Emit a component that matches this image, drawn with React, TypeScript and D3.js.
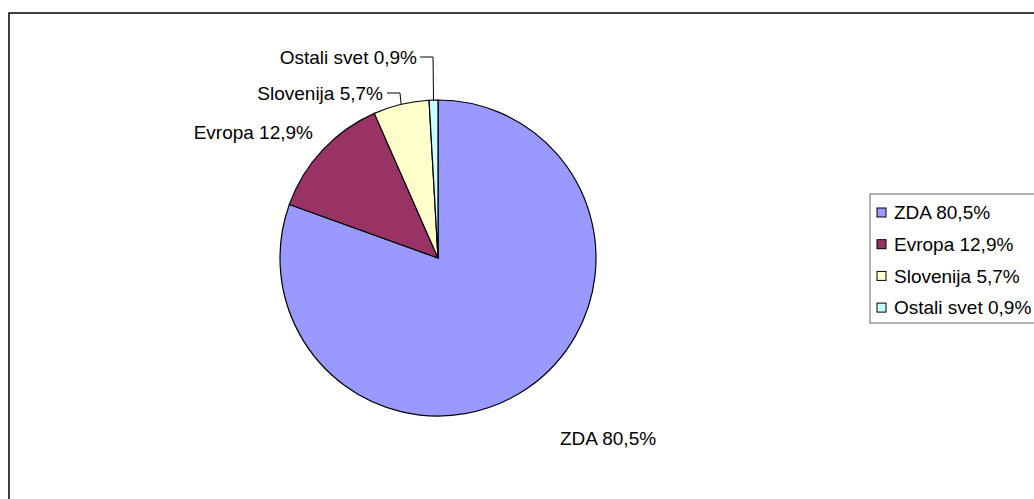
import React from "react";
import * as d3 from "d3";

const categories = ["ZDA", "Evropa", "Slovenija", "Ostali svet"];
const values = [80.5, 12.9, 5.7, 0.9];
const labels = ["ZDA 80,5%", "Evropa 12,9%", "Slovenija 5,7%", "Ostali svet 0,9%"];
const colors = ["#9999FF", "#993366", "#FFFFCC", "#CCFFFF"];

const W = 1034;
const H = 499;
const cx = 438;
const cy = 258;
const R = 158;
const FONT = "'Liberation Sans', Arial, sans-serif";
const FS = 19;

type LabelLayout = { tx: number; ty: number; anchor: "start" | "end"; elbow?: [number, number]; lineEndX?: number };
const labelLayout: LabelLayout[] = [
  { tx: 560, ty: 438, anchor: "start" },
  { tx: 313, ty: 132, anchor: "end" },
  { tx: 383, ty: 93, anchor: "end", elbow: [400, 93], lineEndX: 387 },
  { tx: 417, ty: 57, anchor: "end", elbow: [433, 57], lineEndX: 420 },
];

export default function App() {
  const pie = d3
    .pie<number>()
    .sort(null)
    .value((d) => d);
  const arcs = pie(values);
  const arc = d3.arc<d3.PieArcDatum<number>>().innerRadius(0).outerRadius(R);

  const legendX = 870;
  const legendY = 194;
  const legendStep = 31.7;
  const legendFirst = 212.5;

  return (
    <svg
      width={W}
      height={H}
      style={{ position: "absolute", left: 0, top: 0, background: "#fff" }}
      fontFamily={FONT}
    >
      <rect x={9} y={13} width={1200} height={700} fill="#fff" stroke="#000" strokeWidth={1.5} />
      <g transform={`translate(${cx},${cy})`}>
        {arcs.map((a, i) => (
          <path key={i} d={arc(a) || ""} fill={colors[i]} stroke="#000" strokeWidth={1.2} />
        ))}
      </g>
      {arcs.map((a, i) => {
        const L = labelLayout[i];
        const mid = (a.startAngle + a.endAngle) / 2;
        const px = cx + R * Math.sin(mid);
        const py = cy - R * Math.cos(mid);
        return (
          <g key={i}>
            {L.elbow && (
              <polyline
                points={`${px},${py} ${L.elbow[0]},${L.elbow[1]} ${L.lineEndX},${L.elbow[1]}`}
                fill="none"
                stroke="#000"
                strokeWidth={1}
              />
            )}
            <text x={L.tx} y={L.ty} dy="0.35em" textAnchor={L.anchor} fontSize={FS} fill="#000">
              {labels[i]}
            </text>
          </g>
        );
      })}
      <rect x={legendX} y={legendY} width={300} height={129} fill="#fff" stroke="#808080" strokeWidth={1.2} />
      {categories.map((c, i) => {
        const y = legendFirst + i * legendStep;
        return (
          <g key={c}>
            <rect x={877} y={y - 4.5} width={9} height={9} fill={colors[i]} stroke="#000" strokeWidth={1} />
            <text x={894} y={y} dy="0.35em" fontSize={FS} fill="#000">
              {labels[i]}
            </text>
          </g>
        );
      })}
    </svg>
  );
}
